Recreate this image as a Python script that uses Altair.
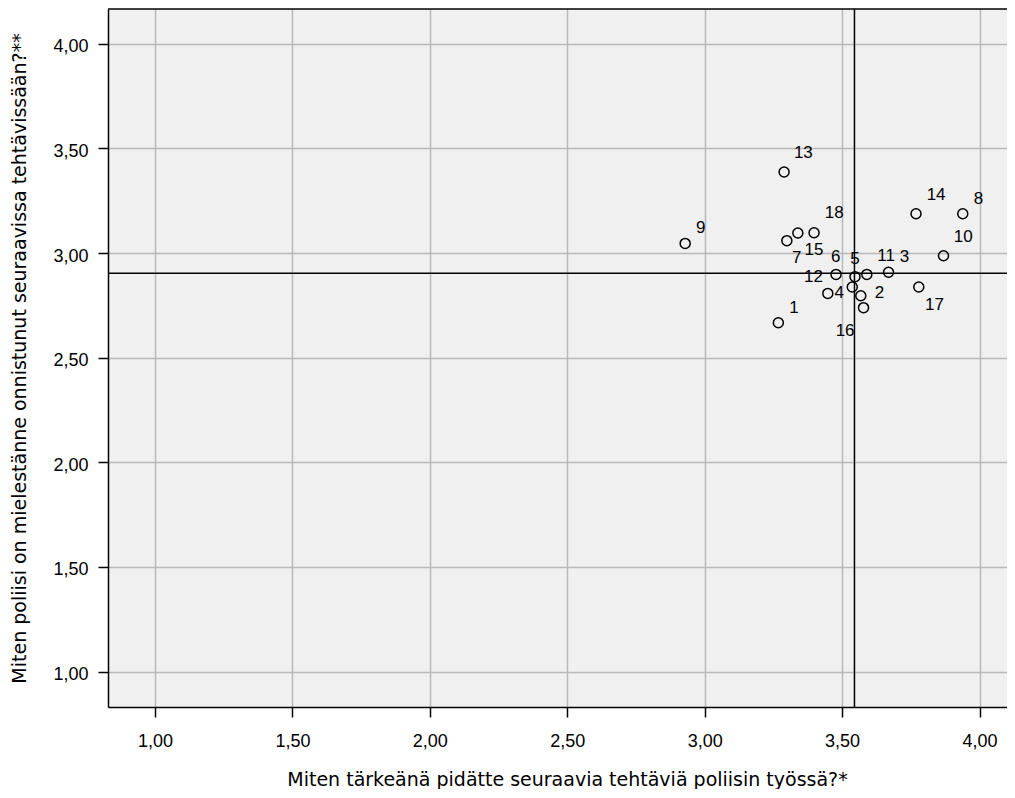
import altair as alt
import pandas as pd

# Case numbers and their mean scores
case_ids = [str(i) for i in range(1, 19)]
importance = [3.268, 3.568, 3.669, 3.448, 3.547, 3.478, 3.299, 3.939, 2.929,
              3.869, 3.590, 3.537, 3.289, 3.769, 3.339, 3.578, 3.779, 3.398]
success = [2.667, 2.796, 2.908, 2.807, 2.887, 2.898, 3.059, 3.188, 3.046,
           2.987, 2.898, 2.838, 3.387, 3.188, 3.096, 2.739, 2.838, 3.097]

# Where each case number label sits, in data units
label_x = [3.325, 3.636, 3.727, 3.490, 3.547, 3.477, 3.335, 3.996, 2.986,
           3.941, 3.660, 3.396, 3.359, 3.842, 3.398, 3.511, 3.836, 3.471]
label_y = [2.736, 2.807, 2.979, 2.810, 2.971, 2.982, 2.975, 3.257, 3.121,
           3.078, 2.986, 2.887, 3.476, 3.277, 3.014, 2.627, 2.752, 3.190]

# Reference (mean) lines
mean_x = [3.545]
mean_y = [2.903]

tick_values = [1.0, 1.5, 2.0, 2.5, 3.0, 3.5, 4.0]
x_domain = [0.829, 4.100]
y_domain = [0.831, 4.166]

x_title = "Miten tärkeänä pidätte seuraavia tehtäviä poliisin työssä?*"
y_title = "Miten poliisi on mielestänne onnistunut seuraavissa tehtävissään?**"

pts = pd.DataFrame({"id": case_ids, "x": importance, "y": success})
lbl = pd.DataFrame({"id": case_ids, "x": label_x, "y": label_y})
vline = pd.DataFrame({"x": mean_x})
hline = pd.DataFrame({"y": mean_y})

W, H = 899, 698
label_expr = "replace(format(datum.value, '.2f'), '.', ',')"

xs = alt.Scale(domain=x_domain, nice=False, zero=False)
ys = alt.Scale(domain=y_domain, nice=False, zero=False)

common = dict(values=tick_values, labelExpr=label_expr,
              grid=True, gridColor="#b9b9b9", gridWidth=1.5,
              domainColor="#000000", domainWidth=1.5,
              tickColor="#000000", tickWidth=1.5, tickSize=10,
              labelFont="Liberation Sans", labelFontSize=18, labelColor="#000000",
              titleFont="DejaVu Sans", titleFontSize=19,
              titleFontWeight="normal", titleColor="#000000")

x_axis = alt.Axis(title=x_title, labelPadding=15,
                  titleX=459, titleY=78, titleAlign="center",
                  titleBaseline="alphabetic", **common)
y_axis = alt.Axis(title=y_title, labelPadding=10, labelOffset=3,
                  titleX=-89, titleY=349, titleAngle=270, titleAlign="center",
                  titleBaseline="middle", **common)

points = alt.Chart(pts).mark_point(
    shape="circle", size=100, filled=False, color="#000000", strokeWidth=1.5, opacity=1
).encode(x=alt.X("x:Q", scale=xs, axis=x_axis), y=alt.Y("y:Q", scale=ys, axis=y_axis))

labels = alt.Chart(lbl).mark_text(
    font="Liberation Sans", fontSize=17, color="#000000", align="center", baseline="middle"
).encode(x=alt.X("x:Q", scale=xs), y=alt.Y("y:Q", scale=ys), text="id:N")

vrule = alt.Chart(vline).mark_rule(color="#000000", strokeWidth=1.5).encode(
    x=alt.X("x:Q", scale=xs))
hrule = alt.Chart(hline).mark_rule(color="#000000", strokeWidth=1.5).encode(
    y=alt.Y("y:Q", scale=ys))
top_border = alt.Chart(vline).mark_rule(color="#000000", strokeWidth=1.5).encode(
    x=alt.value(0), x2=alt.value(W), y=alt.value(0))

chart = alt.layer(vrule, hrule, points, labels, top_border).properties(
    width=W, height=H,
    autosize=alt.AutoSizeParams(type="none"),
    padding={"left": 100, "top": 1, "right": 0, "bottom": 82},
    background="#ffffff",
).configure_view(fill="#f0f0f0", stroke=None)

chart.save("out.html", embed_options={"renderer": "svg", "actions": False})
